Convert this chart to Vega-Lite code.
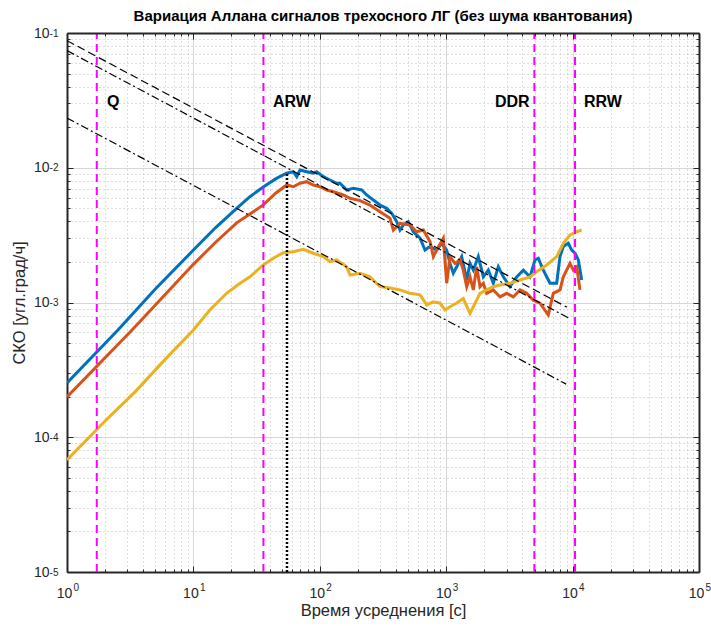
{
  "$schema": "https://vega.github.io/schema/vega-lite/v6.json",
  "width": 632,
  "height": 539,
  "autosize": {"type": "none"},
  "padding": {"left": 67, "top": 33, "right": 12, "bottom": 54},
  "background": "white",
  "config": {
    "font": "Liberation Sans",
    "view": {"stroke": null},
    "axis": {
      "labelFont": "Liberation Sans",
      "labelFontSize": 14,
      "labelColor": "#262626",
      "titleFont": "Liberation Sans",
      "titleFontSize": 16.5,
      "titleFontWeight": "normal",
      "titleColor": "#262626",
      "domainColor": "#262626",
      "tickColor": "#262626",
      "labelFlush": false,
      "labelOverlap": false
    }
  },
  "title": {
    "text": "Вариация Аллана сигналов трехосного ЛГ (без шума квантования)",
    "font": "Liberation Sans",
    "fontSize": 15,
    "fontWeight": "bold",
    "color": "#000000",
    "anchor": "middle",
    "offset": 2
  },
  "datasets": {
    "curves": [
      {"axis": "X", "tau": 1, "sigma": 0.000253},
      {"axis": "X", "tau": 2.53, "sigma": 0.000625},
      {"axis": "X", "tau": 5, "sigma": 0.00126},
      {"axis": "X", "tau": 10, "sigma": 0.00245},
      {"axis": "X", "tau": 15, "sigma": 0.0036},
      {"axis": "X", "tau": 22.1, "sigma": 0.00502},
      {"axis": "X", "tau": 28, "sigma": 0.0061},
      {"axis": "X", "tau": 35.7, "sigma": 0.0072},
      {"axis": "X", "tau": 45, "sigma": 0.0083},
      {"axis": "X", "tau": 54.7, "sigma": 0.0091},
      {"axis": "X", "tau": 61.7, "sigma": 0.00935},
      {"axis": "X", "tau": 65.7, "sigma": 0.00858},
      {"axis": "X", "tau": 69.7, "sigma": 0.00962},
      {"axis": "X", "tau": 78.8, "sigma": 0.00935},
      {"axis": "X", "tau": 88.8, "sigma": 0.0091},
      {"axis": "X", "tau": 94.5, "sigma": 0.00935},
      {"axis": "X", "tau": 106.6, "sigma": 0.00858},
      {"axis": "X", "tau": 120.4, "sigma": 0.00811},
      {"axis": "X", "tau": 136.1, "sigma": 0.00767},
      {"axis": "X", "tau": 144.5, "sigma": 0.00767},
      {"axis": "X", "tau": 163.3, "sigma": 0.00684},
      {"axis": "X", "tau": 184.1, "sigma": 0.00704},
      {"axis": "X", "tau": 214.5, "sigma": 0.00684},
      {"axis": "X", "tau": 235, "sigma": 0.00628},
      {"axis": "X", "tau": 265, "sigma": 0.00576},
      {"axis": "X", "tau": 299.5, "sigma": 0.00529},
      {"axis": "X", "tau": 338, "sigma": 0.005},
      {"axis": "X", "tau": 371, "sigma": 0.00459},
      {"axis": "X", "tau": 406, "sigma": 0.00398},
      {"axis": "X", "tau": 431, "sigma": 0.00345},
      {"axis": "X", "tau": 458, "sigma": 0.00376},
      {"axis": "X", "tau": 501, "sigma": 0.00398},
      {"axis": "X", "tau": 549, "sigma": 0.00335},
      {"axis": "X", "tau": 621, "sigma": 0.003},
      {"axis": "X", "tau": 680, "sigma": 0.00245},
      {"axis": "X", "tau": 745, "sigma": 0.0026},
      {"axis": "X", "tau": 841, "sigma": 0.00245},
      {"axis": "X", "tau": 921, "sigma": 0.00275},
      {"axis": "X", "tau": 1009, "sigma": 0.00245},
      {"axis": "X", "tau": 1072, "sigma": 0.00195},
      {"axis": "X", "tau": 1138, "sigma": 0.00165},
      {"axis": "X", "tau": 1211, "sigma": 0.00184},
      {"axis": "X", "tau": 1326, "sigma": 0.00219},
      {"axis": "X", "tau": 1453, "sigma": 0.00147},
      {"axis": "X", "tau": 1543, "sigma": 0.00195},
      {"axis": "X", "tau": 1639, "sigma": 0.00174},
      {"axis": "X", "tau": 1795, "sigma": 0.00219},
      {"axis": "X", "tau": 1966, "sigma": 0.00155},
      {"axis": "X", "tau": 2153, "sigma": 0.00174},
      {"axis": "X", "tau": 2359, "sigma": 0.00139},
      {"axis": "X", "tau": 2584, "sigma": 0.00184},
      {"axis": "X", "tau": 2830, "sigma": 0.00155},
      {"axis": "X", "tau": 3196, "sigma": 0.00131},
      {"axis": "X", "tau": 3612, "sigma": 0.00155},
      {"axis": "X", "tau": 4074, "sigma": 0.00174},
      {"axis": "X", "tau": 4603, "sigma": 0.00155},
      {"axis": "X", "tau": 5040, "sigma": 0.00207},
      {"axis": "X", "tau": 5353, "sigma": 0.00213},
      {"axis": "X", "tau": 5865, "sigma": 0.00174},
      {"axis": "X", "tau": 6625, "sigma": 0.00139},
      {"axis": "X", "tau": 7483, "sigma": 0.00139},
      {"axis": "X", "tau": 7950, "sigma": 0.00219},
      {"axis": "X", "tau": 8443, "sigma": 0.0026},
      {"axis": "X", "tau": 9247, "sigma": 0.00275},
      {"axis": "X", "tau": 9838, "sigma": 0.00245},
      {"axis": "X", "tau": 10450, "sigma": 0.00232},
      {"axis": "X", "tau": 11100, "sigma": 0.00207},
      {"axis": "X", "tau": 11800, "sigma": 0.00147},
      {"axis": "Y", "tau": 1, "sigma": 0.000199},
      {"axis": "Y", "tau": 3.27, "sigma": 0.000625},
      {"axis": "Y", "tau": 10, "sigma": 0.00192},
      {"axis": "Y", "tau": 15, "sigma": 0.0028},
      {"axis": "Y", "tau": 22, "sigma": 0.0039},
      {"axis": "Y", "tau": 29.6, "sigma": 0.0047},
      {"axis": "Y", "tau": 35.7, "sigma": 0.0053},
      {"axis": "Y", "tau": 45, "sigma": 0.0065},
      {"axis": "Y", "tau": 54.7, "sigma": 0.00745},
      {"axis": "Y", "tau": 61.7, "sigma": 0.00723},
      {"axis": "Y", "tau": 69.7, "sigma": 0.00767},
      {"axis": "Y", "tau": 78.8, "sigma": 0.00788},
      {"axis": "Y", "tau": 88.8, "sigma": 0.00745},
      {"axis": "Y", "tau": 100.4, "sigma": 0.00723},
      {"axis": "Y", "tau": 113.4, "sigma": 0.00684},
      {"axis": "Y", "tau": 127.9, "sigma": 0.00664},
      {"axis": "Y", "tau": 153.5, "sigma": 0.00628},
      {"axis": "Y", "tau": 173.4, "sigma": 0.00593},
      {"axis": "Y", "tau": 208, "sigma": 0.0057},
      {"axis": "Y", "tau": 249.5, "sigma": 0.00529},
      {"axis": "Y", "tau": 299.5, "sigma": 0.00472},
      {"axis": "Y", "tau": 359, "sigma": 0.00422},
      {"axis": "Y", "tau": 382, "sigma": 0.00345},
      {"axis": "Y", "tau": 431, "sigma": 0.00387},
      {"axis": "Y", "tau": 517, "sigma": 0.00376},
      {"axis": "Y", "tau": 584, "sigma": 0.00335},
      {"axis": "Y", "tau": 659, "sigma": 0.00345},
      {"axis": "Y", "tau": 745, "sigma": 0.00283},
      {"axis": "Y", "tau": 791, "sigma": 0.00219},
      {"axis": "Y", "tau": 841, "sigma": 0.00245},
      {"axis": "Y", "tau": 949, "sigma": 0.003},
      {"axis": "Y", "tau": 1009, "sigma": 0.00139},
      {"axis": "Y", "tau": 1072, "sigma": 0.00219},
      {"axis": "Y", "tau": 1174, "sigma": 0.00195},
      {"axis": "Y", "tau": 1286, "sigma": 0.00207},
      {"axis": "Y", "tau": 1365, "sigma": 0.00174},
      {"axis": "Y", "tau": 1453, "sigma": 0.00131},
      {"axis": "Y", "tau": 1543, "sigma": 0.00155},
      {"axis": "Y", "tau": 1639, "sigma": 0.00124},
      {"axis": "Y", "tau": 1743, "sigma": 0.00184},
      {"axis": "Y", "tau": 1851, "sigma": 0.00131},
      {"axis": "Y", "tau": 1966, "sigma": 0.00139},
      {"axis": "Y", "tau": 2091, "sigma": 0.00117},
      {"axis": "Y", "tau": 2359, "sigma": 0.00124},
      {"axis": "Y", "tau": 2666, "sigma": 0.0011},
      {"axis": "Y", "tau": 3010, "sigma": 0.00117},
      {"axis": "Y", "tau": 3395, "sigma": 0.0011},
      {"axis": "Y", "tau": 3837, "sigma": 0.00124},
      {"axis": "Y", "tau": 4334, "sigma": 0.00117},
      {"axis": "Y", "tau": 4888, "sigma": 0.00104},
      {"axis": "Y", "tau": 5522, "sigma": 0.00099},
      {"axis": "Y", "tau": 6423, "sigma": 0.00081},
      {"axis": "Y", "tau": 7036, "sigma": 0.00117},
      {"axis": "Y", "tau": 7950, "sigma": 0.00124},
      {"axis": "Y", "tau": 8443, "sigma": 0.00155},
      {"axis": "Y", "tau": 9537, "sigma": 0.00195},
      {"axis": "Y", "tau": 10130, "sigma": 0.00174},
      {"axis": "Y", "tau": 10780, "sigma": 0.00184},
      {"axis": "Y", "tau": 11440, "sigma": 0.00124},
      {"axis": "Z", "tau": 1, "sigma": 0.0000678},
      {"axis": "Z", "tau": 2, "sigma": 0.000132},
      {"axis": "Z", "tau": 3.5, "sigma": 0.00022},
      {"axis": "Z", "tau": 6, "sigma": 0.00038},
      {"axis": "Z", "tau": 10, "sigma": 0.000625},
      {"axis": "Z", "tau": 13.5, "sigma": 0.00088},
      {"axis": "Z", "tau": 18.3, "sigma": 0.00117},
      {"axis": "Z", "tau": 23.4, "sigma": 0.00139},
      {"axis": "Z", "tau": 28, "sigma": 0.00155},
      {"axis": "Z", "tau": 35.7, "sigma": 0.0019},
      {"axis": "Z", "tau": 42.9, "sigma": 0.00213},
      {"axis": "Z", "tau": 51.4, "sigma": 0.00234},
      {"axis": "Z", "tau": 61.7, "sigma": 0.00238},
      {"axis": "Z", "tau": 74, "sigma": 0.00248},
      {"axis": "Z", "tau": 88.8, "sigma": 0.00232},
      {"axis": "Z", "tau": 106.6, "sigma": 0.00219},
      {"axis": "Z", "tau": 120.4, "sigma": 0.00201},
      {"axis": "Z", "tau": 136.1, "sigma": 0.00207},
      {"axis": "Z", "tau": 163.3, "sigma": 0.00184},
      {"axis": "Z", "tau": 173.4, "sigma": 0.0016},
      {"axis": "Z", "tau": 208, "sigma": 0.00165},
      {"axis": "Z", "tau": 249.5, "sigma": 0.00155},
      {"axis": "Z", "tau": 299.5, "sigma": 0.00131},
      {"axis": "Z", "tau": 359, "sigma": 0.00128},
      {"axis": "Z", "tau": 431, "sigma": 0.00124},
      {"axis": "Z", "tau": 517, "sigma": 0.00117},
      {"axis": "Z", "tau": 621, "sigma": 0.00114},
      {"axis": "Z", "tau": 701, "sigma": 0.00096},
      {"axis": "Z", "tau": 791, "sigma": 0.00101},
      {"axis": "Z", "tau": 893, "sigma": 0.00099},
      {"axis": "Z", "tau": 978, "sigma": 0.00088},
      {"axis": "Z", "tau": 1072, "sigma": 0.00093},
      {"axis": "Z", "tau": 1211, "sigma": 0.00099},
      {"axis": "Z", "tau": 1365, "sigma": 0.00107},
      {"axis": "Z", "tau": 1543, "sigma": 0.00083},
      {"axis": "Z", "tau": 1639, "sigma": 0.00093},
      {"axis": "Z", "tau": 1851, "sigma": 0.00117},
      {"axis": "Z", "tau": 2091, "sigma": 0.00124},
      {"axis": "Z", "tau": 2359, "sigma": 0.00131},
      {"axis": "Z", "tau": 2666, "sigma": 0.00135},
      {"axis": "Z", "tau": 3196, "sigma": 0.00139},
      {"axis": "Z", "tau": 3837, "sigma": 0.00147},
      {"axis": "Z", "tau": 4603, "sigma": 0.00155},
      {"axis": "Z", "tau": 5200, "sigma": 0.00169},
      {"axis": "Z", "tau": 6239, "sigma": 0.0019},
      {"axis": "Z", "tau": 7483, "sigma": 0.00219},
      {"axis": "Z", "tau": 8443, "sigma": 0.00275},
      {"axis": "Z", "tau": 9537, "sigma": 0.00317},
      {"axis": "Z", "tau": 10780, "sigma": 0.00335},
      {"axis": "Z", "tau": 11800, "sigma": 0.00345}
    ],
    "slopes": [
      {"line": "a", "tau": 1, "sigma": 0.0877},
      {"line": "a", "tau": 9000, "sigma": 0.000924},
      {"line": "b", "tau": 1, "sigma": 0.074},
      {"line": "b", "tau": 9400, "sigma": 0.000763},
      {"line": "c", "tau": 1, "sigma": 0.0234},
      {"line": "c", "tau": 8900, "sigma": 0.000248}
    ],
    "bounds": [
      {"tau": 1.72},
      {"tau": 35.8},
      {"tau": 4980},
      {"tau": 10450}
    ],
    "peak": [
      {"tau": 55, "lo": 0.00001, "hi": 0.0091}
    ],
    "regions": [
      {"name": "Q", "tau": 2.07, "sigma": 0.031},
      {"name": "ARW", "tau": 42.6, "sigma": 0.031},
      {"name": "DDR", "tau": 2430, "sigma": 0.031},
      {"name": "RRW", "tau": 12300, "sigma": 0.031}
    ]
  },
  "resolve": {"axis": {"x": "independent", "y": "independent"}},
  "layer": [
    {
      "data": {"name": "curves"},
      "mark": {"type": "line", "strokeWidth": 3, "clip": true},
      "encoding": {
        "x": {
          "field": "tau", "type": "quantitative",
          "scale": {"type": "log", "domain": [1, 100000], "nice": false},
          "axis": {
            "orient": "bottom",
            "values": [1, 10, 100, 1000, 10000, 100000],
            "labelExpr": "'10'",
            "labelOffset": -3,
            "grid": true, "gridColor": "#d6d6d6", "gridWidth": 1,
            "tickSize": -6, "tickWidth": 1,
            "domainWidth": 2,
            "labelPadding": 20,
            "title": "Время усреднения [с]",
            "titlePadding": 2,
            "zindex": 0
          }
        },
        "y": {
          "field": "sigma", "type": "quantitative",
          "scale": {"type": "log", "domain": [0.00001, 0.1], "nice": false},
          "axis": {
            "orient": "left",
            "values": [0.00001, 0.0001, 0.001, 0.01, 0.1],
            "labelExpr": "'10'",
            "labelDy": 2,
            "grid": true, "gridColor": "#d6d6d6", "gridWidth": 1,
            "tickSize": -6, "tickWidth": 1,
            "domainWidth": 2,
            "labelPadding": 24,
            "title": "СКО [угл.град/ч]",
            "titlePadding": 6,
            "zindex": 0
          }
        },
        "color": {
          "field": "axis", "type": "nominal",
          "scale": {"domain": ["X", "Y", "Z"], "range": ["#0072BD", "#D95319", "#EDB120"]},
          "legend": null
        }
      }
    },
    {
      "data": {"name": "slopes"},
      "mark": {"type": "line", "strokeWidth": 1.2, "color": "#000000", "clip": true},
      "encoding": {
        "x": {
          "field": "tau", "type": "quantitative",
          "axis": {
            "orient": "bottom",
            "values": [2, 3, 4, 5, 6, 7, 8, 9, 20, 30, 40, 50, 60, 70, 80, 90, 200, 300, 400, 500, 600, 700, 800, 900, 2000, 3000, 4000, 5000, 6000, 7000, 8000, 9000, 20000, 30000, 40000, 50000, 60000, 70000, 80000, 90000],
            "labels": false, "domain": false, "title": null,
            "grid": true, "gridColor": "#bdbdbd", "gridDash": [1, 3], "gridWidth": 1,
            "tickSize": -3, "tickWidth": 1,
            "zindex": 0
          }
        },
        "y": {
          "field": "sigma", "type": "quantitative",
          "axis": {
            "orient": "left",
            "values": [0.00002, 0.00003, 0.00004, 0.00005, 0.00006, 0.00007, 0.00008, 0.00009, 0.0002, 0.0003, 0.0004, 0.0005, 0.0006, 0.0007, 0.0008, 0.0009, 0.002, 0.003, 0.004, 0.005, 0.006, 0.007, 0.008, 0.009, 0.02, 0.03, 0.04, 0.05, 0.06, 0.07, 0.08, 0.09],
            "labels": false, "domain": false, "title": null,
            "grid": true, "gridColor": "#bdbdbd", "gridDash": [1, 3], "gridWidth": 1,
            "tickSize": -3, "tickWidth": 1,
            "zindex": 0
          }
        },
        "detail": {"field": "line", "type": "nominal"},
        "strokeDash": {
          "field": "line", "type": "nominal",
          "scale": {"domain": ["a", "b", "c"], "range": [[8, 4], [8, 3, 2, 3], [8, 3, 2, 3]]},
          "legend": null
        }
      }
    },
    {
      "data": {"name": "bounds"},
      "mark": {"type": "rule", "color": "#FF00FF", "strokeWidth": 2, "strokeDash": [8, 5]},
      "encoding": {
        "x": {
          "field": "tau", "type": "quantitative",
          "axis": {
            "orient": "top",
            "values": [1, 10, 100, 1000, 10000, 100000],
            "labels": false, "grid": false, "title": null,
            "tickSize": -6, "tickWidth": 1, "domainWidth": 2,
            "zindex": 1
          }
        },
        "y": {
          "datum": 0.00001, "type": "quantitative",
          "axis": {
            "orient": "right",
            "values": [0.00001, 0.0001, 0.001, 0.01, 0.1],
            "labels": false, "grid": false, "title": null,
            "tickSize": -6, "tickWidth": 1, "domainWidth": 2,
            "zindex": 1
          }
        },
        "y2": {"datum": 0.1}
      }
    },
    {
      "data": {"name": "peak"},
      "mark": {"type": "rule", "color": "#000000", "strokeWidth": 2.5, "strokeDash": [2, 2]},
      "encoding": {
        "x": {
          "field": "tau", "type": "quantitative",
          "axis": {
            "orient": "top",
            "values": [2, 3, 4, 5, 6, 7, 8, 9, 20, 30, 40, 50, 60, 70, 80, 90, 200, 300, 400, 500, 600, 700, 800, 900, 2000, 3000, 4000, 5000, 6000, 7000, 8000, 9000, 20000, 30000, 40000, 50000, 60000, 70000, 80000, 90000],
            "labels": false, "grid": false, "domain": false, "title": null,
            "tickSize": -3, "tickWidth": 1,
            "zindex": 1
          }
        },
        "y": {
          "field": "lo", "type": "quantitative",
          "axis": {
            "orient": "right",
            "values": [0.00002, 0.00003, 0.00004, 0.00005, 0.00006, 0.00007, 0.00008, 0.00009, 0.0002, 0.0003, 0.0004, 0.0005, 0.0006, 0.0007, 0.0008, 0.0009, 0.002, 0.003, 0.004, 0.005, 0.006, 0.007, 0.008, 0.009, 0.02, 0.03, 0.04, 0.05, 0.06, 0.07, 0.08, 0.09],
            "labels": false, "grid": false, "domain": false, "title": null,
            "tickSize": -3, "tickWidth": 1,
            "zindex": 1
          }
        },
        "y2": {"field": "hi"}
      }
    },
    {
      "data": {"name": "regions"},
      "mark": {"type": "text", "font": "Liberation Sans", "fontSize": 16, "fontWeight": "bold", "align": "left", "baseline": "middle", "color": "#000000"},
      "encoding": {
        "x": {
          "field": "tau", "type": "quantitative",
          "axis": {
            "orient": "bottom",
            "values": [1, 10, 100, 1000, 10000, 100000],
            "labelExpr": "format(log(datum.value) / LN10, '.0f')",
            "labelFontSize": 10,
            "labelAlign": "left",
            "labelOffset": 6,
            "ticks": false, "tickSize": 0, "domain": false, "grid": false, "title": null,
            "labelPadding": 10,
            "zindex": 1
          }
        },
        "y": {
          "field": "sigma", "type": "quantitative",
          "axis": {
            "orient": "left",
            "values": [0.00001, 0.0001, 0.001, 0.01, 0.1],
            "labelExpr": "'-' + format(-log(datum.value) / LN10, '.0f')",
            "labelFontSize": 10,
            "labelDy": -6,
            "ticks": false, "tickSize": 0, "domain": false, "grid": false, "title": null,
            "labelPadding": 9,
            "zindex": 1
          }
        },
        "text": {"field": "name"}
      }
    }
  ]
}
